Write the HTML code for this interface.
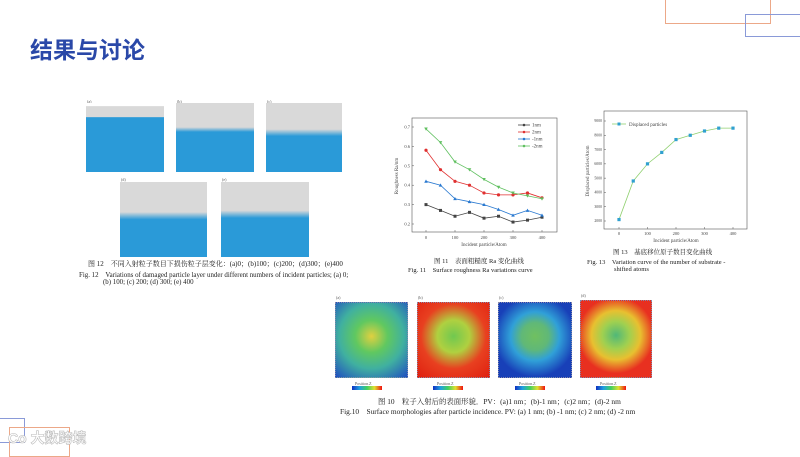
<!DOCTYPE html>
<html><head><meta charset="utf-8"><style>
*{margin:0;padding:0;box-sizing:border-box}
body{width:800px;height:450px;position:relative;background:#fff;overflow:hidden;font-family:"Liberation Serif","Noto Serif CJK SC",serif;color:#222}
.abs{position:absolute}
.cap{position:absolute;font-size:6px;white-space:nowrap;color:#222}
.md{position:absolute;overflow:hidden;background:#2a9ad8}
.hm{position:absolute;border:1px dotted #88a}
.cb{position:absolute;height:4px;background:linear-gradient(90deg,#1030c0,#20a0e0,#40d060,#e0e030,#f01010)}
.lbl{position:absolute;font-size:4px;color:#555}
</style></head><body>
<div class="abs" style="left:665px;top:-2px;width:106px;height:26px;border:1px solid #eca888"></div>
<div class="abs" style="left:745px;top:14px;width:60px;height:23px;border:1px solid #8a9ad8"></div>
<div class="abs" style="left:-2px;top:418px;width:27px;height:25px;border:1px solid #8a9ad8"></div>
<div class="abs" style="left:9px;top:427px;width:61px;height:30px;border:1px solid #eca888"></div>
<div class="abs" style="left:8px;top:428px;font:bold 14px 'Liberation Sans','Noto Sans CJK SC',sans-serif;color:#fff;-webkit-text-stroke:0.6px #bbb">Co 大数跨境</div>
<div class="abs" style="left:30px;top:31px;font:bold 23px 'Liberation Sans','Noto Sans CJK SC',sans-serif;color:#2a48a8">结果与讨论</div>

<!-- Fig 12 -->
<div class="lbl" style="left:87px;top:99px">(a)</div>
<div class="md" style="left:86px;top:103px;width:78px;height:69px;background:linear-gradient(#fff 0,#fff 4%,#d9d9d9 5%,#d9d9d9 20%,#2a9ad8 21%)"></div>
<div class="lbl" style="left:177px;top:99px">(b)</div>
<div class="md" style="left:176px;top:103px;width:78px;height:69px;background:linear-gradient(#d9d9d9 0,#d9d9d9 35%,#2a9ad8 42%)"></div>
<div class="lbl" style="left:267px;top:99px">(c)</div>
<div class="md" style="left:266px;top:103px;width:76px;height:69px;background:linear-gradient(#d9d9d9 0,#d9d9d9 38%,#2a9ad8 48%)"></div>
<div class="lbl" style="left:121px;top:177px">(d)</div>
<div class="md" style="left:120px;top:182px;width:87px;height:75px;background:linear-gradient(#d9d9d9 0,#d9d9d9 40%,#2a9ad8 50%)"></div>
<div class="lbl" style="left:222px;top:177px">(e)</div>
<div class="md" style="left:221px;top:182px;width:88px;height:75px;background:linear-gradient(#d9d9d9 0,#d9d9d9 38%,#2a9ad8 48%)"></div>
<div class="cap" style="left:88px;top:259px;font-size:7px">图 12　不同入射粒子数目下损伤粒子层变化：(a)0；(b)100；(c)200；(d)300；(e)400</div>
<div class="cap" style="left:79px;top:269px;font-size:6.9px">Fig. 12　Variations of damaged particle layer under different numbers of incident particles; (a) 0;</div>
<div class="cap" style="left:103px;top:279px;font-size:6.9px">(b) 100; (c) 200; (d) 300; (e) 400</div>

<!-- Fig 11 chart -->
<svg class="abs" id="c11" style="left:390px;top:110px" width="180" height="170"></svg>
<div class="cap" style="left:434px;top:256px;font-size:6.5px">图 11　表面粗糙度 Ra 变化曲线</div>
<div class="cap" style="left:408px;top:265px;font-size:6.5px">Fig. 11　Surface roughness Ra variations curve</div>

<!-- Fig 13 chart -->
<svg class="abs" id="c13" style="left:580px;top:105px" width="180" height="145"></svg>
<div class="cap" style="left:613px;top:247px;font-size:6.5px">图 13　基底移位原子数目变化曲线</div>
<div class="cap" style="left:587px;top:257px;font-size:6.5px">Fig. 13　Variation curve of the number of substrate -</div>
<div class="cap" style="left:614px;top:266px;font-size:6.5px">shifted atoms</div>

<!-- Fig 10 -->
<div class="lbl" style="left:336px;top:295px">(a)</div>
<div class="hm" style="left:335px;top:302px;width:73px;height:76px;background:radial-gradient(circle at 50% 45%,#e0d040 0,#60c860 30%,#40b0a0 60%,#2050c0 100%)"></div>
<div class="lbl" style="left:418px;top:295px">(b)</div>
<div class="hm" style="left:417px;top:302px;width:73px;height:76px;background:radial-gradient(circle at 50% 45%,#70c850 0,#b0d040 30%,#e84020 60%,#e02010 100%)"></div>
<div class="lbl" style="left:499px;top:295px">(c)</div>
<div class="hm" style="left:498px;top:302px;width:74px;height:76px;background:radial-gradient(circle at 50% 45%,#70c060 0,#60b878 25%,#30a0d8 45%,#1840b8 75%)"></div>
<div class="lbl" style="left:581px;top:293px">(d)</div>
<div class="hm" style="left:580px;top:300px;width:72px;height:78px;background:radial-gradient(circle at 50% 45%,#50b878 0,#a0d050 25%,#e8c030 45%,#e83020 70%)"></div>
<div class="cb" style="left:352px;top:386px;width:30px"></div>
<div class="cb" style="left:433px;top:386px;width:30px"></div>
<div class="cb" style="left:515px;top:386px;width:30px"></div>
<div class="cb" style="left:596px;top:386px;width:30px"></div>
<div class="lbl" style="left:355px;top:381px">Position.Z</div>
<div class="lbl" style="left:437px;top:381px">Position.Z</div>
<div class="lbl" style="left:519px;top:381px">Position.Z</div>
<div class="lbl" style="left:600px;top:381px">Position.Z</div>
<div class="cap" style="left:378px;top:396px;font-size:7.4px">图 10　粒子入射后的表面形貌．PV：(a)1 nm；(b)-1 nm；(c)2 nm；(d)-2 nm</div>
<div class="cap" style="left:340px;top:406px;font-size:7.4px">Fig.10　Surface morphologies after particle incidence. PV: (a) 1 nm; (b) -1 nm; (c) 2 nm; (d) -2 nm</div>

<script>
const xCats=[0,50,100,150,200,250,300,350,400];
const s1nm=[0.30,0.27,0.24,0.26,0.23,0.24,0.21,0.22,0.235];
const s2nm=[0.58,0.48,0.42,0.40,0.36,0.35,0.35,0.36,0.335];
const sm1nm=[0.42,0.40,0.33,0.315,0.30,0.275,0.245,0.27,0.245];
const sm2nm=[0.69,0.62,0.52,0.48,0.43,0.39,0.36,0.345,0.33];
const yTicks11=[0.2,0.3,0.4,0.5,0.6,0.7];
const xTicks=[0,100,200,300,400];
const displaced=[2100,4800,6000,6800,7700,8000,8300,8500,8500];
const yTicks13=[2000,3000,4000,5000,6000,7000,8000,9000];
const NS='http://www.w3.org/2000/svg';
function mk(p,t,a){const e=document.createElementNS(NS,t);for(const k in a)e.setAttribute(k,a[k]);p.appendChild(e);return e;}
function txt(p,x,y,s,anchor,size,rot){const e=mk(p,'text',{x:x,y:y,'font-size':size||5,'text-anchor':anchor||'middle',fill:'#444','font-family':'Liberation Serif'});if(rot)e.setAttribute('transform','rotate(-90 '+x+' '+y+')');e.textContent=s;return e;}
(function(){
const svg=document.getElementById('c11');
const X=v=>36+(v/400)*116, Y=v=>17+(0.7-v)/0.5*97;
mk(svg,'rect',{x:22,y:8,width:145,height:114,fill:'none',stroke:'#555','stroke-width':0.6});
yTicks11.forEach(t=>{mk(svg,'line',{x1:22,x2:24,y1:Y(t),y2:Y(t),stroke:'#555','stroke-width':0.5});txt(svg,20,Y(t)+1.5,t.toFixed(1),'end',4.5);});
xTicks.forEach(t=>{mk(svg,'line',{x1:X(t),x2:X(t),y1:122,y2:120,stroke:'#555','stroke-width':0.5});txt(svg,X(t),129,String(t),'middle',4.5);});
txt(svg,94,136,'Incident particle/Atom','middle',5);
txt(svg,8,66,'Roughness Ra/nm','middle',5,true);
const series=[[s1nm,'#444','1nm','sq'],[s2nm,'#e03030','2nm','ci'],[sm1nm,'#2878d0','-1nm','up'],[sm2nm,'#60c060','-2nm','dn']];
series.forEach((s,i)=>{
 const pts=s[0].map((v,j)=>X(xCats[j])+','+Y(v)).join(' ');
 const pl=mk(svg,'polyline',{points:pts,fill:'none',stroke:s[1],'stroke-width':0.8});
 
 
 s[0].forEach((v,j)=>{const cx=X(xCats[j]),cy=Y(v);
  let m;
  if(s[3]=='sq')m=mk(svg,'rect',{x:cx-1.5,y:cy-1.5,width:3,height:3,fill:s[1]});
  else if(s[3]=='ci')m=mk(svg,'circle',{cx:cx,cy:cy,r:1.6,fill:s[1]});
  else if(s[3]=='up')m=mk(svg,'polygon',{points:(cx-1.8)+','+(cy+1.4)+' '+(cx+1.8)+','+(cy+1.4)+' '+cx+','+(cy-1.8),fill:s[1]});
  else m=mk(svg,'polygon',{points:(cx-1.8)+','+(cy-1.4)+' '+(cx+1.8)+','+(cy-1.4)+' '+cx+','+(cy+1.8),fill:s[1]});
  
  
 });
 const ly=15+i*7;
 mk(svg,'line',{x1:128,x2:140,y1:ly,y2:ly,stroke:s[1],'stroke-width':0.8});
 mk(svg,'circle',{cx:134,cy:ly,r:1.3,fill:s[1]});
 txt(svg,142,ly+1.6,s[2],'start',5);
});
})();
(function(){
const svg=document.getElementById('c13');
const X=v=>39+(v/400)*114, Y=v=>16+(9000-v)/7000*100;
mk(svg,'rect',{x:24,y:6,width:143,height:118,fill:'none',stroke:'#555','stroke-width':0.6});
yTicks13.forEach(t=>{mk(svg,'line',{x1:24,x2:26,y1:Y(t),y2:Y(t),stroke:'#555','stroke-width':0.5});txt(svg,22,Y(t)+1.2,String(t),'end',3.8);});
xTicks.forEach(t=>{mk(svg,'line',{x1:X(t),x2:X(t),y1:124,y2:122,stroke:'#555','stroke-width':0.5});txt(svg,X(t),130,String(t),'middle',4.5);});
txt(svg,96,137,'Incident particle/Atom','middle',5);
txt(svg,9,66,'Displaced particles/Atom','middle',5,true);
const pts=displaced.map((v,j)=>X(xCats[j])+','+Y(v)).join(' ');
const pl=mk(svg,'polyline',{points:pts,fill:'none',stroke:'#90d070','stroke-width':0.8});


displaced.forEach((v,j)=>{const m=mk(svg,'rect',{x:X(xCats[j])-1.6,y:Y(v)-1.6,width:3.2,height:3.2,fill:'#30a0d0'});
 
 });
mk(svg,'line',{x1:32,x2:46,y1:19,y2:19,stroke:'#90d070','stroke-width':0.8});
mk(svg,'rect',{x:37.5,y:17.5,width:3,height:3,fill:'#30a0d0'});
txt(svg,49,21,'Displaced particles','start',5);
})();
</script>
</body></html>
